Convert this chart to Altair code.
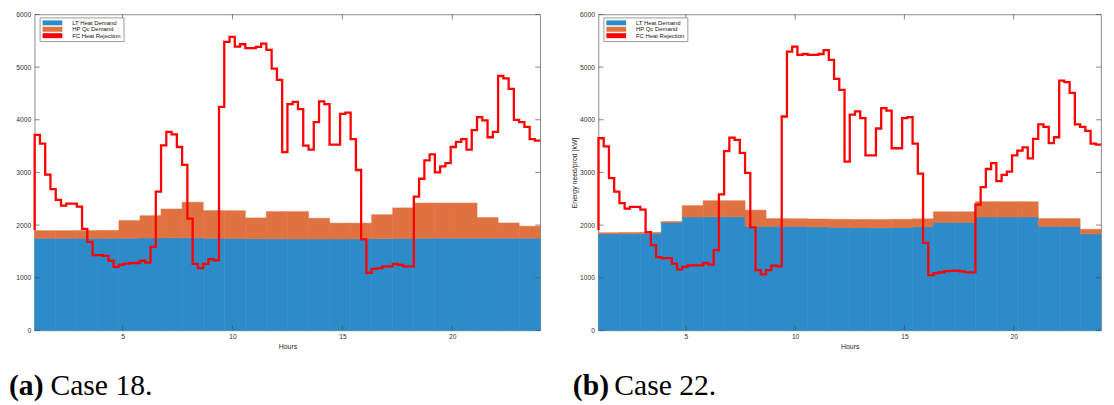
import altair as alt
import pandas as pd

# ---------------- data ----------------
SERIES = ["LT Heat Demand", "HP Qc Demand", "FC Heat Rejection"]
COLORS = ["#2E8BC9", "#E07242", "#FF0000"]
HOUR_TICKS = [5, 10, 15, 20]
KW_TICKS = [0, 1000, 2000, 3000, 4000, 5000, 6000]

# 24 hourly blocks (LT heat demand and HP Qc demand, kW)
lt_18 = [1750, 1750, 1750, 1750, 1752, 1755, 1758, 1758, 1750, 1745, 1740, 1738,
         1736, 1735, 1735, 1738, 1742, 1746, 1750, 1752, 1752, 1752, 1752, 1752]
hp_18 = [143, 143, 145, 148, 333, 423, 547, 676, 524, 527, 395, 517,
         519, 394, 302, 299, 455, 580, 668, 666, 666, 390, 288, 226]

lt_22 = [1834, 1836, 1838, 2049, 2154, 2160, 2160, 1975, 1975, 1972, 1965, 1958,
         1952, 1950, 1955, 1968, 2049, 2049, 2154, 2154, 2154, 1975, 1975, 1834]
hp_22 = [21, 22, 24, 19, 215, 302, 302, 308, 148, 148, 150, 152,
         153, 155, 155, 150, 203, 203, 289, 289, 289, 148, 148, 86]

# FC heat rejection, 96 stair levels between hour 1 and hour 24 (kW)
fc_lead_18 = 1900
fc_18 = [3711, 3545, 2960, 2683, 2480, 2369, 2406, 2406, 2351, 1926,
         1680, 1428, 1428, 1415, 1323, 1206, 1249, 1270, 1280, 1280,
         1323, 1286, 1588, 2634, 3514, 3772, 3723, 3483, 3145, 2123,
         1262, 1182, 1262, 1354, 1329, 4246, 5477, 5575, 5391, 5434,
         5360, 5360, 5385, 5446, 5329, 4972, 4757, 3385, 4295, 4338,
         4203, 3508, 3434, 3957, 4351, 4295, 3526, 3526, 4111, 4135,
         3631, 3046, 1729, 1095, 1169, 1182, 1218, 1218, 1262, 1243,
         1218, 1218, 2541, 2880, 3231, 3342, 3003, 3114, 3175, 3483,
         3582, 3631, 3434, 3803, 4049, 3988, 3668, 3772, 4831, 4788,
         4585, 4000, 3957, 3865, 3631, 3606]

fc_lead_22 = 1900
fc_22 = [3649, 3495, 2892, 2634, 2418, 2314, 2345, 2345, 2295, 1865,
         1619, 1391, 1372, 1372, 1268, 1157, 1206, 1237, 1237, 1237,
         1280, 1249, 1526, 2585, 3403, 3661, 3619, 3372, 2991, 1957,
         1145, 1065, 1145, 1231, 1218, 4062, 5292, 5391, 5231, 5249,
         5231, 5231, 5249, 5323, 5138, 4775, 4566, 3206, 4098, 4160,
         4031, 3323, 3323, 3834, 4221, 4172, 3459, 3459, 4031, 4049,
         3545, 2978, 1662, 1050, 1090, 1100, 1125, 1130, 1135, 1120,
         1100, 1100, 2388, 2720, 3065, 3175, 2837, 2954, 3015, 3323,
         3415, 3477, 3268, 3637, 3914, 3865, 3557, 3668, 4745, 4714,
         4511, 3914, 3865, 3791, 3545, 3526]

CAPTIONS = [("(a)", "Case 18."), ("(b)", "Case 22.")]

# ---------------- layout / style ----------------
W_LEFT, W_RIGHT, H = 512, 509, 320
FONT = "Liberation Sans"
TICK_COLOR = "#4d4d4d"

xs = alt.Scale(domain=[1, 24], nice=False, zero=False)
ys = alt.Scale(domain=[0, 6000], nice=False, zero=False)
cs = alt.Scale(domain=SERIES, range=COLORS)


def legend():
    return alt.Legend(
        orient="none", legendX=5, legendY=3,
        symbolType="M-4,-1H4V1H-4Z", symbolSize=25, symbolStrokeWidth=0,
        symbolOffset=7.5, labelOffset=17, symbolOpacity=1,
        labelFont=FONT, labelFontSize=6, labelColor="#111111",
        padding=2.5, rowPadding=0.5, strokeColor="#9a9a9a",
        fillColor="white", cornerRadius=0,
    )


def panel(lt, hp, fc, lead, tag, case, ytitle, cap_dx, W):
    n = len(lt)
    rows = []
    for k in range(n):
        s = 1 + k * 23 / n
        e = 1 + (k + 1) * 23 / n
        rows.append({"start": s, "end": e, "series": SERIES[0], "order": 0, "kw": lt[k]})
        rows.append({"start": s, "end": e, "series": SERIES[1], "order": 1, "kw": hp[k]})
    bar_df = pd.DataFrame(rows)

    m = len(fc)
    t = [1.0] + [1 + i * 23 / m for i in range(m)] + [24.0]
    v = [lead] + fc + [fc[-1]]
    fc_df = pd.DataFrame({"t": t, "v": v, "series": SERIES[2]})

    xaxis = alt.Axis(values=HOUR_TICKS, title="Hours", grid=False, ticks=False,
                     domain=False, labelPadding=3, titlePadding=3)
    if ytitle:
        yaxis = alt.Axis(values=KW_TICKS, format="d", title=ytitle, grid=False,
                         ticks=False, domain=False, labelPadding=4, titlePadding=2)
    else:
        yaxis = alt.Axis(values=KW_TICKS, format="d", title=None, grid=False,
                         ticks=False, domain=False, labelPadding=4)

    bars = alt.Chart(bar_df).transform_stack(
        stack="kw", groupby=["start"], as_=["y0", "y1"],
        sort=[alt.SortField(field="order", order="ascending")],
    ).mark_rect(strokeWidth=0.6).encode(
        x=alt.X("start:Q", scale=xs, axis=xaxis),
        x2="end:Q",
        y=alt.Y("y0:Q", scale=ys, axis=yaxis),
        y2="y1:Q",
        color=alt.Color("series:N", scale=cs, legend=legend(), title=None),
        stroke=alt.Stroke("series:N", scale=cs, legend=None),
    )

    line = alt.Chart(fc_df).mark_line(
        interpolate="step-after", strokeWidth=2.3, strokeJoin="miter"
    ).encode(
        x=alt.X("t:Q", scale=xs, axis=xaxis),
        y=alt.Y("v:Q", scale=ys, axis=yaxis),
        color=alt.Color("series:N", scale=cs, legend=legend(), title=None),
    )

    ydf = pd.DataFrame({"v": KW_TICKS})
    xdf = pd.DataFrame({"h": HOUR_TICKS})
    yt_l = alt.Chart(ydf).mark_rule(color=TICK_COLOR, strokeWidth=0.7).encode(
        y=alt.Y("v:Q", scale=ys, axis=yaxis), x=alt.value(0), x2=alt.value(5))
    yt_r = alt.Chart(ydf).mark_rule(color=TICK_COLOR, strokeWidth=0.7).encode(
        y=alt.Y("v:Q", scale=ys, axis=yaxis), x=alt.value(W - 5), x2=alt.value(W))
    xt_b = alt.Chart(xdf).mark_rule(color=TICK_COLOR, strokeWidth=0.7).encode(
        x=alt.X("h:Q", scale=xs, axis=xaxis), y=alt.value(H - 5), y2=alt.value(H))
    xt_t = alt.Chart(xdf).mark_rule(color=TICK_COLOR, strokeWidth=0.7).encode(
        x=alt.X("h:Q", scale=xs, axis=xaxis), y=alt.value(0), y2=alt.value(5))

    cap_a = alt.Chart(pd.DataFrame({"c": [tag]})).mark_text(
        font="Liberation Serif", fontSize=30, fontWeight="bold",
        align="left", baseline="alphabetic", color="black",
    ).encode(text="c:N", x=alt.value(cap_dx), y=alt.value(385))
    cap_b = alt.Chart(pd.DataFrame({"c": [case]})).mark_text(
        font="Liberation Serif", fontSize=30, fontWeight="normal",
        align="left", baseline="alphabetic", color="black",
    ).encode(text="c:N", x=alt.value(cap_dx + 42), y=alt.value(385))

    return alt.layer(bars, line, yt_l, yt_r, xt_b, xt_t, cap_a, cap_b).properties(
        width=W, height=H)


left = panel(lt_18, hp_18, fc_18, fc_lead_18, CAPTIONS[0][0], CAPTIONS[0][1],
             None, -26, W_LEFT)
right = panel(lt_22, hp_22, fc_22, fc_lead_22, CAPTIONS[1][0], CAPTIONS[1][1],
              "Energy need/prod [kW]", -26, W_RIGHT)

chart = alt.hconcat(left, right, spacing=25).resolve_scale(
    color="independent", stroke="independent"
).resolve_legend(color="independent").properties(
    padding={"left": 0, "right": 0, "top": 0, "bottom": 0}
).configure_view(
    stroke="#6e6e6e", strokeWidth=0.8
).configure_axis(
    labelFont=FONT, labelFontSize=6.8, labelColor="#333333",
    titleFont=FONT, titleFontSize=7, titleFontWeight="normal", titleColor="#262626",
)

chart.save("out.html", embed_options={"renderer": "svg", "actions": False})
